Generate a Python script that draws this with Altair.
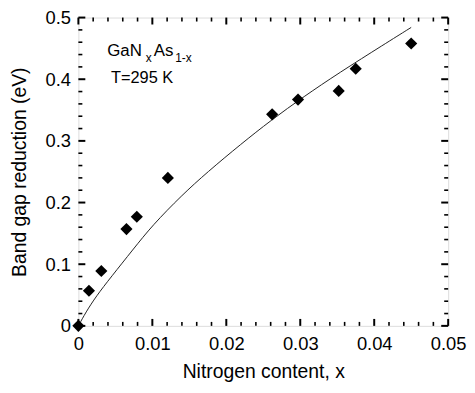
import altair as alt
import pandas as pd

# measured data points (diamonds)
x_pts = [0.0, 0.00143, 0.0031, 0.0065, 0.0079, 0.0121, 0.0262, 0.0297, 0.0352, 0.0375, 0.0450]
y_pts = [0.0, 0.057, 0.089, 0.157, 0.177, 0.240, 0.343, 0.367, 0.381, 0.417, 0.458]

# fitted curve
x_fit = [0.0, 0.0010, 0.0024, 0.0044, 0.0074, 0.0100, 0.0140, 0.0174, 0.0220, 0.0260, 0.0305, 0.0352, 0.0414, 0.0450]
y_fit = [0.0, 0.022, 0.048, 0.079, 0.124, 0.163, 0.212, 0.249, 0.295, 0.333, 0.372, 0.410, 0.457, 0.484]

# annotation pieces
ann_text = ["GaN", "x", "As", "1-x", "T=295 K"]
ann_x = [0.0039, 0.0091, 0.0102, 0.0131, 0.0044]
ann_y = [0.437, 0.428, 0.437, 0.428, 0.394]
ann_size = [17, 12, 17, 12, 16.5]

# axis ticks
x_major = [0, 0.01, 0.02, 0.03, 0.04, 0.05]
x_minor = [0.002, 0.004, 0.006, 0.008, 0.012, 0.014, 0.016, 0.018,
           0.022, 0.024, 0.026, 0.028, 0.032, 0.034, 0.036, 0.038,
           0.042, 0.044, 0.046, 0.048]
y_major = [0, 0.1, 0.2, 0.3, 0.4, 0.5]
y_minor = [0.02, 0.04, 0.06, 0.08, 0.12, 0.14, 0.16, 0.18, 0.22, 0.24,
           0.26, 0.28, 0.32, 0.34, 0.36, 0.38, 0.42, 0.44, 0.46, 0.48]

pts = pd.DataFrame({"x": x_pts, "y": y_pts})
fit = pd.DataFrame({"x": x_fit, "y": y_fit})
ann = pd.DataFrame({"t": ann_text, "x": ann_x, "y": ann_y, "s": ann_size})
xmaj = pd.DataFrame({"v": x_major})
xmin = pd.DataFrame({"v": x_minor})
ymaj = pd.DataFrame({"v": y_major})
ymin = pd.DataFrame({"v": y_minor})

FONT = "Liberation Sans"
W, H = 373, 311
MAJ, MIN = 7, 4

xs = alt.Scale(domain=[0, 0.05], nice=False, zero=False)
ys = alt.Scale(domain=[0, 0.5], nice=False, zero=False)

x_axis = alt.Axis(orient="bottom", values=x_major, format="~g", ticks=False, tickSize=0,
                  domain=False, grid=False,
                  labelFont=FONT, labelFontSize=18.5, labelColor="black", labelPadding=9,
                  labelFlush=False, labelOverlap=False,
                  title="Nitrogen content, x", titleFont=FONT, titleFontSize=19.5,
                  titleFontWeight="normal", titleColor="black", titlePadding=10)
y_axis = alt.Axis(orient="left", values=y_major, format="~g", ticks=False, tickSize=0,
                  domain=False, grid=False,
                  labelFont=FONT, labelFontSize=18.5, labelColor="black", labelPadding=8,
                  labelFlush=False, labelOverlap=False,
                  title="Band gap reduction (eV)", titleFont=FONT, titleFontSize=19.5,
                  titleFontWeight="normal", titleColor="black", titlePadding=16)

line = alt.Chart(fit).mark_line(color="#222222", strokeWidth=1, interpolate="basis").encode(
    x=alt.X("x:Q", scale=xs, axis=x_axis),
    y=alt.Y("y:Q", scale=ys, axis=y_axis),
)

points = alt.Chart(pts).mark_point(shape="diamond", filled=True, color="black", size=150,
                                   opacity=1, clip=False).encode(
    x=alt.X("x:Q", scale=xs, axis=None),
    y=alt.Y("y:Q", scale=ys, axis=None),
)


def xticks(df, y0, y1, w):
    return alt.Chart(df).mark_rule(color="black", strokeWidth=w).encode(
        x=alt.X("v:Q", scale=xs, axis=None), y=alt.value(y0), y2=alt.value(y1))


def yticks(df, x0, x1, w):
    return alt.Chart(df).mark_rule(color="black", strokeWidth=w).encode(
        y=alt.Y("v:Q", scale=ys, axis=None), x=alt.value(x0), x2=alt.value(x1))


ticks = [
    xticks(xmaj, H, H - MAJ, 2), xticks(xmaj, 0, MAJ, 2),
    xticks(xmin, H, H - MIN, 1.6), xticks(xmin, 0, MIN, 1.6),
    yticks(ymaj, 0, MAJ, 2), yticks(ymaj, W, W - MAJ, 2),
    yticks(ymin, 0, MIN, 1.6), yticks(ymin, W, W - MIN, 1.6),
]

text = alt.Chart(ann).mark_text(align="left", baseline="alphabetic", font=FONT,
                                color="black").encode(
    x=alt.X("x:Q", scale=xs, axis=None),
    y=alt.Y("y:Q", scale=ys, axis=None),
    text="t:N",
    size=alt.Size("s:Q", scale=None, legend=None),
)

chart = alt.layer(line, *ticks, points, text).resolve_axis(
    x="independent", y="independent"
).properties(
    width=W, height=H,
    autosize=alt.AutoSizeParams(type="none"),
    padding={"left": 71, "top": 8, "right": 19, "bottom": 58},
).configure_view(stroke="black", strokeWidth=2).configure(background="white")

chart.save("out.html", embed_options={"renderer": "svg", "actions": False})
